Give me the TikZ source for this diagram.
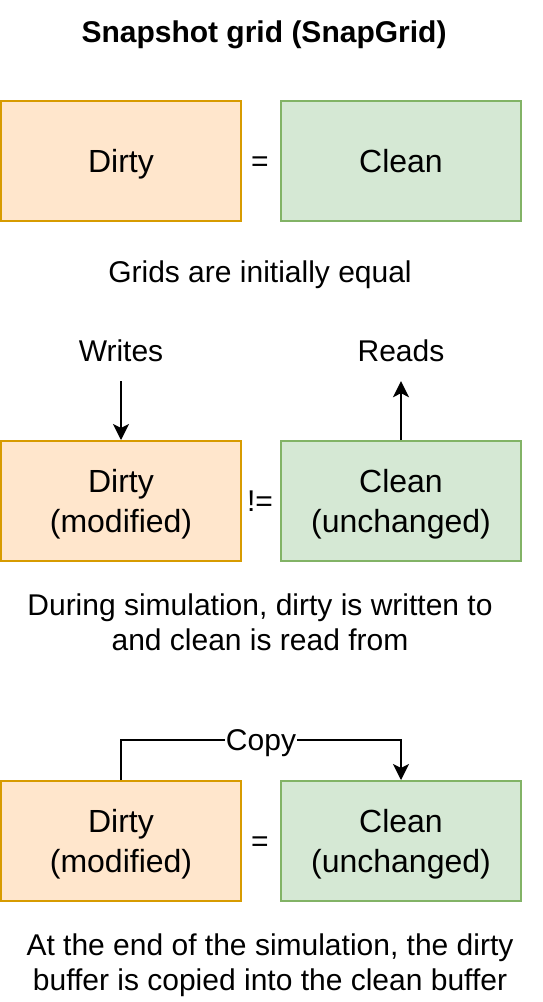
\documentclass[tikz,border=0pt]{standalone}
\usepackage{fontspec}
\setmainfont{Liberation Sans}
\usetikzlibrary{arrows.meta}
\definecolor{dfill}{HTML}{FFE6CC}
\definecolor{ddraw}{HTML}{D79B00}
\definecolor{cfill}{HTML}{D5E8D4}
\definecolor{cdraw}{HTML}{82B366}
\tikzset{
  grid/.style={rectangle, minimum width=240pt, minimum height=120pt, inner sep=0pt, line width=2pt, align=center, font=\fontsize{32pt}{40pt}\selectfont},
  dirtybox/.style={grid, fill=dfill, draw=ddraw},
  cleanbox/.style={grid, fill=cfill, draw=cdraw},
  oneline/.style={text height=23.3pt, text depth=0pt},
  caption/.style={align=center, inner sep=0pt, font=\fontsize{30pt}{35pt}\selectfont},
  capone/.style={caption, text height=21.9pt, text depth=0pt},
  lbl/.style={minimum width=120pt, minimum height=60pt, inner sep=0pt, font=\fontsize{30pt}{35pt}\selectfont},
  arr/.style={line width=2pt, -{Stealth[length=16pt, width=16pt, inset=4pt]}}
}
\begin{document}
\begin{tikzpicture}[x=1pt, y=-1pt]
\useasboundingbox (0,0) rectangle (542,1002);
\node[capone, font=\fontsize{30pt}{35pt}\selectfont\bfseries] (title) at (264,32) {Snapshot grid (SnapGrid)};
% row 1
\node[dirtybox, oneline] (d1) at (121,161) {Dirty};
\node[cleanbox, oneline] (c1) at (401,161) {Clean};
\node[capone] (eq1) at (260,161) {=};
\node[capone] (cap1) at (260,272) {Grids are initially equal};
% row 2
\node[lbl] (writes) at (121,351) {Writes};
\node[lbl] (reads) at (401,351) {Reads};
\node[dirtybox] (d2) at (121,501) {Dirty\\\smash{(modified)}};
\node[cleanbox] (c2) at (401,501) {Clean\\\smash{(unchanged)}};
\node[capone] (neq) at (260,501) {!=};
\draw[arr] (writes) -- (d2);
\draw[arr] (c2) -- (reads);
\node[caption] (cap2) at (260,622.5) {During simulation, dirty is written to\\and clean is read from};
% row 3
\node[dirtybox] (d3) at (121,841) {Dirty\\\smash{(modified)}};
\node[cleanbox] (c3) at (401,841) {Clean\\\smash{(unchanged)}};
\node[capone] (eq3) at (260,841) {=};
\draw[arr] (d3.north) -- ++(0,-40) -| node[pos=0.25, fill=white, inner sep=1pt, text height=21.9pt, text depth=0pt, font=\fontsize{30pt}{35pt}\selectfont] (copy) {Copy} (c3.north);
\node[caption] (cap3) at (270,962.5) {At the end of the simulation, the dirty\\\smash{buffer is copied into the clean buffer}};
\end{tikzpicture}
\end{document}
